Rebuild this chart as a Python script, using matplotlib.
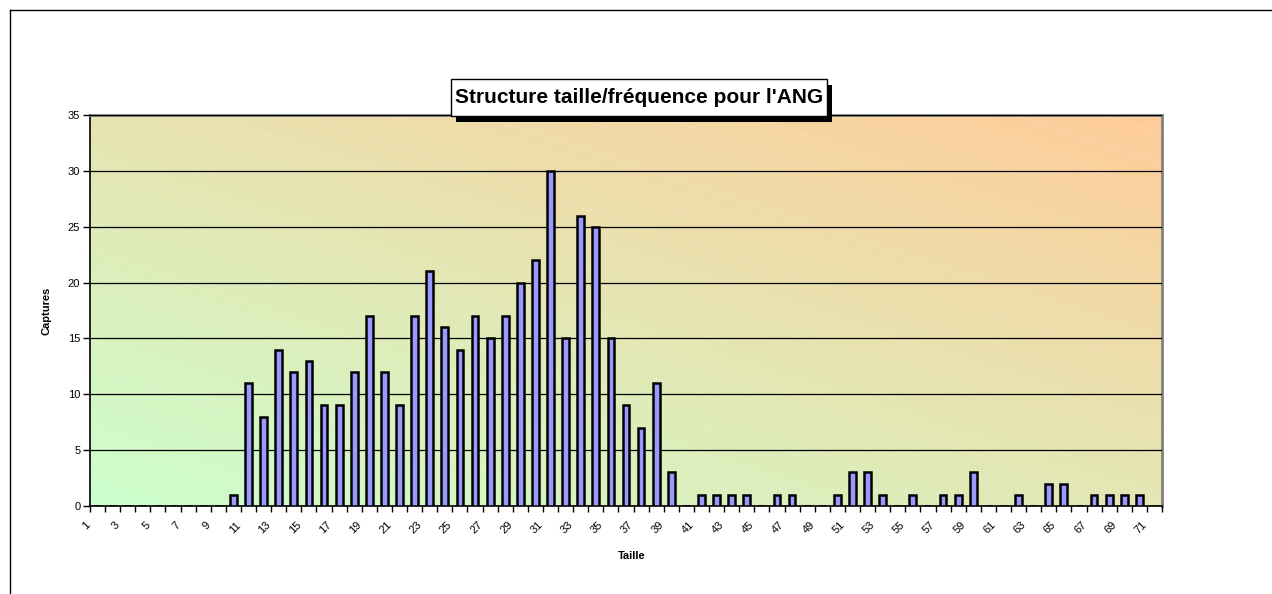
import numpy as np
import matplotlib.pyplot as plt
from matplotlib.transforms import ScaledTranslation
from matplotlib.lines import Line2D
from matplotlib.patches import Rectangle

plt.rcParams['font.family'] = ['Liberation Sans', 'DejaVu Sans']

# taille (size classes) and number of captures
tailles = list(range(1, 72))
captures = [0, 0, 0, 0, 0, 0, 0, 0, 0,
            1, 11, 8, 14, 12, 13, 9, 9, 12, 17,
            12, 9, 17, 21, 16, 14, 17, 15, 17, 20,
            22, 30, 15, 26, 25, 15, 9, 7, 11, 3,
            0, 1, 1, 1, 1, 0, 1, 1, 0, 0,
            1, 3, 3, 1, 0, 1, 0, 1, 1, 3,
            0, 0, 1, 0, 2, 2, 0, 1, 1, 1,
            1, 0]
tick_labels = [str(t) if t % 2 == 1 else '' for t in tailles]
titre = "Structure taille/fréquence pour l'ANG"

W, H = 1272, 594
fig = plt.figure(figsize=(W / 100, H / 100), dpi=100)
ax = fig.add_axes([90 / W, 1 - 506 / H, 1072 / W, 391 / H])

# chart area border (top and left visible)
fig.add_artist(Line2D([10 / W, 1], [1 - 10 / H, 1 - 10 / H], color='black', lw=1))
fig.add_artist(Line2D([10 / W, 10 / W], [0, 1 - 10 / H], color='black', lw=1))

# diagonal gradient background: green bottom-left -> orange top-right
gx = np.linspace(0, 1, 300)
gy = np.linspace(0, 1, 120)
X, Y = np.meshgrid(gx, gy)
t = (X * 0.75 + Y * 0.85) / 1.6
c0 = np.array([0.80, 1.0, 0.80])
c1 = np.array([1.0, 0.80, 0.60])
img = c0[None, None, :] * (1 - t[..., None]) + c1[None, None, :] * t[..., None]
ax.imshow(img, extent=[0.5, 71.5, 0, 35], origin='lower', aspect='auto', zorder=0)

# faint white texture stripes
for k in np.arange(-1.0, 2.2, 0.075):
    ax.plot([0, 1], [k, k - 0.9], transform=ax.transAxes, color='white',
            lw=0.5, alpha=0.2, zorder=0.5)

ax.bar(tailles, captures, width=0.45, color='#9999ff', edgecolor='black',
       linewidth=1.8, zorder=3)

ax.set_xlim(0.5, 71.5)
ax.set_ylim(0, 35)
ax.set_yticks(range(0, 36, 5))
ax.yaxis.grid(True, color='black', lw=0.9, zorder=1)
ax.set_axisbelow(False)

# category labels, rotated and offset like the spreadsheet export
ax.set_xticks(np.arange(0.5, 72, 1))
ax.set_xticklabels([])
ax.tick_params(axis='x', length=4, width=1, direction='out')
lab_tr = ax.get_xaxis_transform() + ScaledTranslation(-13 / 100, -14 / 100,
                                                      fig.dpi_scale_trans)
for x, lab in zip(tailles, tick_labels):
    if lab:
        ax.text(x, 0, lab, transform=lab_tr, rotation=45, ha='right', va='top',
                rotation_mode='anchor', fontsize=8)
ax.tick_params(axis='y', length=5, width=1, direction='out', labelsize=8, pad=2)

for side in ['top', 'right']:
    ax.spines[side].set_color('#808080')
    ax.spines[side].set_linewidth(2)
for side in ['bottom', 'left']:
    ax.spines[side].set_color('black')
    ax.spines[side].set_linewidth(1.2)

ax.set_xlabel('Taille', fontsize=8, fontweight='bold')
ax.xaxis.set_label_coords(0.505, -0.115)
ax.set_ylabel('Captures', fontsize=8, fontweight='bold', labelpad=12)

# title box with drop shadow
bx0, bx1, by0, by1 = 451, 827, 79, 116
fig.add_artist(Rectangle(((bx0 + 5) / W, 1 - (by1 + 6) / H), (bx1 - bx0) / W,
                         (by1 - by0) / H, transform=fig.transFigure,
                         fc='black', ec='black', lw=0))
fig.add_artist(Rectangle((bx0 / W, 1 - by1 / H), (bx1 - bx0) / W, (by1 - by0) / H,
                         transform=fig.transFigure, fc='white', ec='black', lw=1))
fig.text((bx0 + bx1) / 2 / W, 1 - (by0 + by1) / 2 / H, titre,
         fontsize=15, fontweight='bold', ha='center', va='center', color='black')

fig.savefig('out.png', dpi=100)
